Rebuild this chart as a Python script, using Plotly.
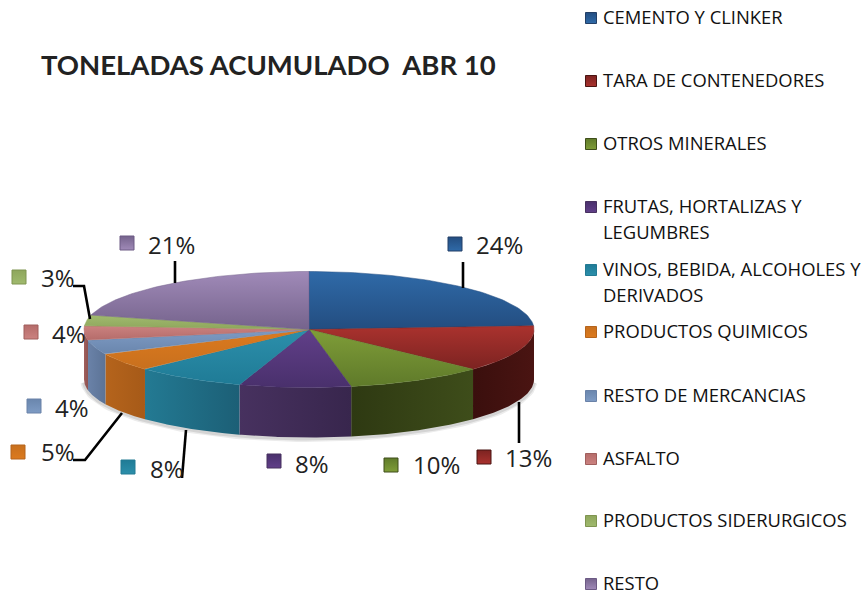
import numpy as np
import plotly.graph_objects as go

# ---- data
categories = ["CEMENTO Y CLINKER", "TARA DE CONTENEDORES", "OTROS MINERALES",
              "FRUTAS, HORTALIZAS Y<br>LEGUMBRES", "VINOS, BEBIDA, ALCOHOLES Y<br>DERIVADOS",
              "PRODUCTOS QUIMICOS", "RESTO DE MERCANCIAS", "ASFALTO",
              "PRODUCTOS SIDERURGICOS", "RESTO"]
values = [24, 13, 10, 8, 8, 5, 4, 4, 3, 21]
title_text = "TONELADAS ACUMULADO  ABR 10"

# ---- style
top_light = ["#2f6aa8", "#aa322e", "#7f9d38", "#613f89", "#2c8fab", "#dc7a1e", "#7e9bc4", "#cb8280", "#a0ba6e", "#a08ab8"]
top_dark = ["#234d80", "#7c2321", "#5f7a2a", "#49306c", "#1f7b96", "#c8701e", "#6a86ad", "#b56c6a", "#8ea65c", "#75638c"]
wall_a = ["#233f66", "#4a1412", "#3e4d1a", "#47315f", "#237a93", "#b5641c", "#6a82a8", "#a05f5d", "#7f9450", "#6c5a84"]
wall_b = ["#1a3050", "#3a0f0d", "#2e3912", "#38264d", "#1c5f76", "#a65a18", "#5c7396", "#8e5250", "#6e8144", "#5c4c70"]
legend_y = [19, 82, 145, 208, 271, 333, 397, 460, 522, 585]
legend_marker_y = [18, 81, 144, 207, 270, 332, 396, 459, 521, 584]
legend_line_gap = 26
label_marker = [(455, 244), (484, 457), (391, 465), (274, 461), (128, 467), (18, 452), (34, 406), (31, 332), (19, 277), (127, 243)]
label_text = [(476, 248), (505, 461), (413, 468), (295, 467), (150, 472), (41, 455), (55, 411), (52, 337), (41, 281), (148, 248)]
leaders = [[(463, 262), (463, 288)], [(519, 402), (519, 443)], None, None, [(186, 430), (182, 478)],
           [(73, 460), (85, 460), (122, 413)], None, None, [(73, 286), (84, 286), (90, 319)], [(175, 261), (175, 283)]]
CX, CY, RX, RY, DEPTH = 309, 329.5, 225, 58, 50

def pt(a, dy=0.0):
    a = np.radians(a)
    return CX + RX * np.sin(a), CY - RY * np.cos(a) + dy

total = sum(values)
edges = np.cumsum([0] + values) / total * 360
fig = go.Figure()

# soft shadow below the pie
sa = np.linspace(92, 268, 90)
sx, sy = pt(sa, DEPTH)
for w, col in [(7, "#ececec"), (4, "#d4d4d4")]:
    fig.add_trace(go.Scatter(x=sx, y=sy + 1, mode="lines", line=dict(color=col, width=w), hoverinfo="skip", showlegend=False))

# side walls (front half only)
for i in range(len(values)):
    a0, a1 = max(edges[i], 90), min(edges[i + 1], 270)
    if a1 <= a0:
        continue
    t = np.linspace(a0, a1, 50)
    xa, ya = pt(t)
    xb, yb = pt(t[::-1], DEPTH)
    fig.add_trace(go.Scatter(
        x=np.r_[xa, xb, xa[0]], y=np.r_[ya, yb, ya[0]], mode="lines", fill="toself",
        line=dict(width=0, color=wall_a[i]), hoverinfo="skip", showlegend=False,
        fillgradient=dict(type="horizontal", colorscale=[[0, wall_b[i]], [1, wall_a[i]]] if i < 3 else [[0, wall_a[i]], [1, wall_b[i]]])))

# top surface
for i in range(len(values)):
    t = np.linspace(edges[i], edges[i + 1], 60)
    xa, ya = pt(t)
    fig.add_trace(go.Scatter(
        x=np.r_[CX, xa, CX], y=np.r_[CY, ya, CY], mode="lines", fill="toself",
        line=dict(width=0.5, color=top_dark[i]), hoverinfo="skip", showlegend=False,
        fillgradient=dict(type="vertical", colorscale=[[0, top_dark[i]], [1, top_light[i]]])))

# leader lines
for pts in leaders:
    if pts:
        fig.add_trace(go.Scatter(x=[p[0] for p in pts], y=[p[1] for p in pts], mode="lines",
                                 line=dict(color="#000000", width=2.6), hoverinfo="skip", showlegend=False))

# data labels
fig.add_trace(go.Scatter(
    x=[p[0] for p in label_marker], y=[p[1] for p in label_marker], mode="markers", hoverinfo="skip", showlegend=False,
    marker=dict(symbol="square", size=14, color=top_dark,
                gradient=dict(type="vertical", color=top_light), line=dict(width=1, color=wall_a))))
fig.add_trace(go.Scatter(
    x=[p[0] for p in label_text], y=[p[1] for p in label_text], mode="text", hoverinfo="skip", showlegend=False,
    text=[f"{v}%" for v in values], textposition="middle right",
    textfont=dict(family="Open Sans", size=24, color="#222222")))

# legend
lx, ly, lt = [], [], []
for c, y in zip(categories, legend_y):
    for j, line in enumerate(c.split("<br>")):
        lx.append(603); ly.append(y + j * legend_line_gap); lt.append(line)
fig.add_trace(go.Scatter(
    x=[591] * len(values), y=legend_marker_y, mode="markers", hoverinfo="skip", showlegend=False,
    marker=dict(symbol="square", size=11, color=top_dark,
                gradient=dict(type="vertical", color=top_light), line=dict(width=1, color=wall_a))))
fig.add_trace(go.Scatter(
    x=lx, y=ly, text=lt, mode="text", hoverinfo="skip", showlegend=False, textposition="middle right",
    textfont=dict(family="Open Sans", size=18.4, color="#111111"), cliponaxis=False))

fig.update_layout(
    width=865, height=595, autosize=False, margin=dict(l=0, r=0, t=0, b=0),
    paper_bgcolor="white", plot_bgcolor="white", showlegend=False,
    title=dict(text=title_text, x=41 / 865, xanchor="left", y=1 - 65 / 595, yanchor="middle",
               font=dict(family="Lato", size=27.5, weight="bold", color="#222222")),
    xaxis=dict(range=[0, 865], visible=False, fixedrange=True),
    yaxis=dict(range=[595, 0], visible=False, fixedrange=True),
)
fig.write_html("out.html", config={"displayModeBar": False},
               post_script="document.body.style.margin='0';document.body.style.overflow='hidden';")
